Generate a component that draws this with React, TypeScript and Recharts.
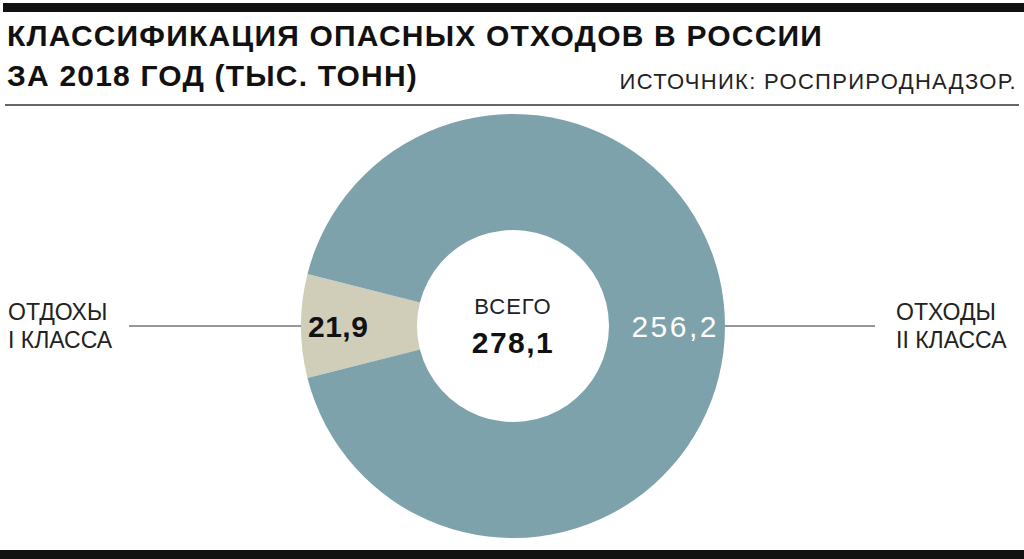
import React from 'react';
import { PieChart, Pie, Cell } from 'recharts';

const categories = ['ОТДОХЫ\nI КЛАССА', 'ОТХОДЫ\nII КЛАССА'];
const values = [21.9, 256.2];
const valueLabels = ['21,9', '256,2'];
const totalTitle = 'ВСЕГО';
const totalLabel = '278,1';
const colors = ['#d0cdb9', '#7ea2ac'];

const data = categories.map((name, i) => ({ name, value: values[i] }));
const total = values.reduce((a, b) => a + b, 0);
// the small slice is centred on the left side of the ring
const half = (values[0] / total) * 180;
const startAngle = 180 + half;

const RAD = Math.PI / 180;
const FONT = '"Liberation Sans", Arial, sans-serif';

const renderLabel = (props: any) => {
  const { cx, cy, midAngle, outerRadius, index } = props;
  const ex = cx + outerRadius * Math.cos(-midAngle * RAD);
  const ey = cy + outerRadius * Math.sin(-midAngle * RAD);
  const left = index === 0;
  const [line1, line2] = categories[index].split('\n');
  const lineEnd = left ? ex - 172 : ex + 150;
  const textX = left ? 8 : ex + 171;
  return (
    <g>
      <line x1={ex} y1={ey} x2={lineEnd} y2={ey} stroke="#333" strokeWidth={1.2} />
      <text
        x={left ? ex + 7 : ex - 6}
        y={ey + 11}
        textAnchor={left ? 'start' : 'end'}
        fontFamily={FONT}
        fontSize={30}
        fontWeight={left ? 700 : 400}
        letterSpacing={left ? 0.5 : 2.5}
        fill={left ? '#111' : '#fff'}
      >
        {valueLabels[index]}
      </text>
      <text x={textX} y={ey - 6} fontFamily={FONT} fontSize={23} fill="#222">
        {line1}
      </text>
      <text x={textX} y={ey + 22} fontFamily={FONT} fontSize={23} fill="#222">
        {line2}
      </text>
      {left && (
        <g>
          <text x={cx} y={cy - 12} textAnchor="middle" fontFamily={FONT} fontSize={22} letterSpacing={1} fill="#222">
            {totalTitle}
          </text>
          <text x={cx} y={cy + 27} textAnchor="middle" fontFamily={FONT} fontSize={30} fontWeight={700} letterSpacing={1.5} fill="#111">
            {totalLabel}
          </text>
        </g>
      )}
    </g>
  );
};

const App: React.FC = () => {
  return (
    <div style={{ position: 'absolute', left: 0, top: 0, width: 1024, height: 559, background: '#fff', fontFamily: FONT, overflow: 'hidden' }}>
      <div style={{ position: 'absolute', left: 3, top: 3, width: 1021, height: 9, background: '#111' }} />
      <div style={{ position: 'absolute', left: 7, top: 16, fontSize: 30, fontWeight: 700, letterSpacing: 1.2, color: '#111', lineHeight: '40px', whiteSpace: 'nowrap' }}>
        КЛАССИФИКАЦИЯ ОПАСНЫХ ОТХОДОВ В РОССИИ
        <br />
        ЗА 2018 ГОД (ТЫС. ТОНН)
      </div>
      <div style={{ position: 'absolute', right: 7, top: 70, fontSize: 22, letterSpacing: 1.3, lineHeight: '24px', color: '#222', whiteSpace: 'nowrap' }}>
        ИСТОЧНИК: РОСПРИРОДНАДЗОР.
      </div>
      <div style={{ position: 'absolute', left: 5, top: 104, width: 1014, height: 2, background: '#666' }} />
      <div style={{ position: 'absolute', left: 0, top: 0 }}>
        <PieChart width={1024} height={559} margin={{ top: 0, right: 0, bottom: 0, left: 0 }}>
          <Pie
            data={data}
            dataKey="value"
            nameKey="name"
            cx={513}
            cy={326}
            innerRadius={96}
            outerRadius={212}
            startAngle={startAngle}
            endAngle={startAngle - 360}
            stroke="none"
            label={renderLabel}
            labelLine={false}
            isAnimationActive={false}
          >
            {data.map((d, i) => (
              <Cell key={d.name} fill={colors[i]} />
            ))}
          </Pie>
        </PieChart>
      </div>
      <div style={{ position: 'absolute', left: 0, top: 550, width: 1024, height: 9, background: '#111' }} />
    </div>
  );
};

export default App;
